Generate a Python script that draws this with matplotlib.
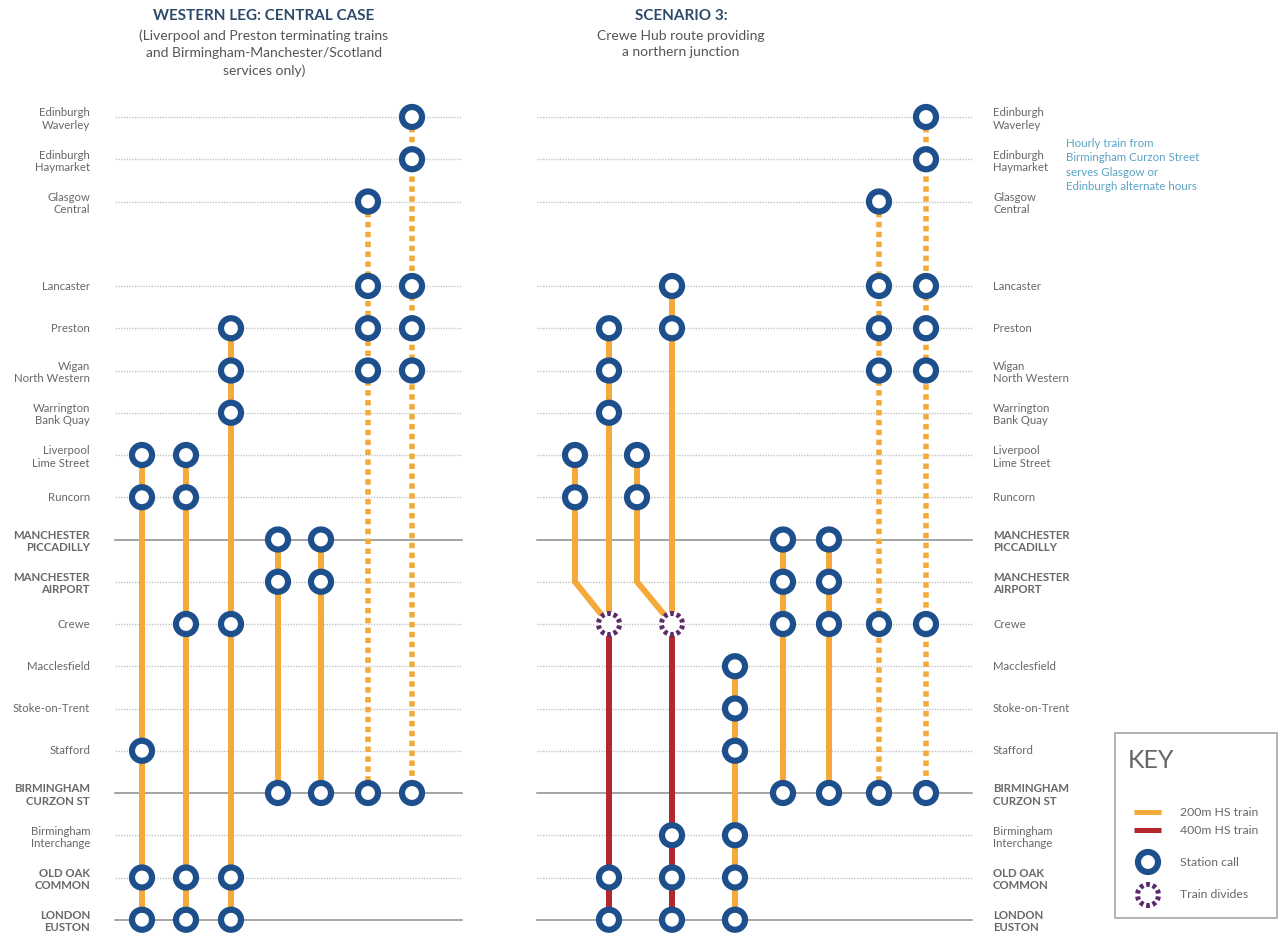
import matplotlib
matplotlib.use("Agg")
import matplotlib.pyplot as plt
from matplotlib.patches import Circle, Arc, Rectangle

# ---------------- data ----------------
STATION_KEYS = ["EDW", "EDH", "GLC", None, "LAN", "PRE", "WIG", "WBQ", "LIV", "RUN",
                "MAN", "MIA", "CRE", "MAC", "SOT", "STA", "BHM", "BHI", "OOC", "EUS"]
STATION_LABELS = ["Edinburgh\nWaverley", "Edinburgh\nHaymarket", "Glasgow\nCentral", "",
                  "Lancaster", "Preston", "Wigan\nNorth Western", "Warrington\nBank Quay",
                  "Liverpool\nLime Street", "Runcorn", "MANCHESTER\nPICCADILLY",
                  "MANCHESTER\nAIRPORT", "Crewe", "Macclesfield", "Stoke-on-Trent", "Stafford",
                  "BIRMINGHAM\nCURZON ST", "Birmingham\nInterchange", "OLD OAK\nCOMMON",
                  "LONDON\nEUSTON"]
MAJOR_STATIONS = ["MAN", "BHM", "EUS"]
BOLD_STATIONS = ["MAN", "MIA", "BHM", "OOC", "EUS"]

LEFT_CALLS = [
    ["LIV", "RUN", "STA", "OOC", "EUS"],
    ["LIV", "RUN", "CRE", "OOC", "EUS"],
    ["PRE", "WIG", "WBQ", "CRE", "OOC", "EUS"],
    ["MAN", "MIA", "BHM"],
    ["MAN", "MIA", "BHM"],
    ["GLC", "LAN", "PRE", "WIG", "BHM"],
    ["EDW", "EDH", "LAN", "PRE", "WIG", "BHM"],
]
LEFT_TRAIN = ["200m", "200m", "200m", "200m", "200m", "alternate", "alternate"]

RIGHT_CALLS = [
    ["LIV", "RUN"],
    ["PRE", "WIG", "WBQ", "CRE"],
    ["LIV", "RUN"],
    ["LAN", "PRE", "CRE"],
    ["MAC", "SOT", "STA", "BHI", "OOC", "EUS"],
    ["MAN", "MIA", "CRE", "BHM"],
    ["MAN", "MIA", "CRE", "BHM"],
    ["GLC", "LAN", "PRE", "WIG", "CRE", "BHM"],
    ["EDW", "EDH", "LAN", "PRE", "WIG", "CRE", "BHM"],
]
RIGHT_TRAIN = ["200m", "200m", "200m", "200m", "200m", "200m", "200m", "alternate", "alternate"]
# branch service -> (service it joins, station where it bends, station where it joins)
RIGHT_JOINS = {0: (1, "MIA", "CRE"), 2: (3, "MIA", "CRE")}
# service -> 400m onward calls after dividing
RIGHT_DIVIDES = {1: ["CRE", "OOC", "EUS"], 3: ["CRE", "BHI", "OOC", "EUS"]}

LEFT_TITLE = "WESTERN LEG: CENTRAL CASE"
LEFT_SUB = "(Liverpool and Preston terminating trains\nand Birmingham-Manchester/Scotland\nservices only)"
RIGHT_TITLE = "SCENARIO 3:"
RIGHT_SUB = "Crewe Hub route providing\na northern junction"
NOTE = "Hourly train from\nBirmingham Curzon Street\nserves Glasgow or\nEdinburgh alternate hours"
KEY_ITEMS = ["200m HS train", "400m HS train", "Station call", "Train divides"]

# ---------------- layout / style ----------------
W, H = 1284, 936
Y0, PITCH = 117, 42.25
LEFT_X = [142, 186, 231, 278, 321, 368, 412]
RIGHT_X = [575, 609, 637, 672, 735, 783, 829, 879, 926]
LEFT_RULE = (115, 462)
RIGHT_RULE = (537, 972)

NAVY = "#1c4f8b"
ORANGE = "#f4a93b"
RED = "#b5262d"
PURPLE = "#5a2a6c"
GREY_TXT = "#686868"
TITLE_C = "#2e4a6a"
NOTE_C = "#5aa3c4"
PX = 0.72  # points per pixel at dpi 100

FONT = ["Lato", "DejaVu Sans"]
plt.rcParams["font.family"] = FONT

fig = plt.figure(figsize=(W / 100, H / 100), dpi=100)
ax = fig.add_axes([0, 0, 1, 1])
ax.set_xlim(0, W)
ax.set_ylim(H, 0)
ax.axis("off")


def ry(key):
    return Y0 + PITCH * STATION_KEYS.index(key)


def ring(x, y, z=5):
    ax.add_patch(Circle((x, y), 10.0, facecolor="white", edgecolor=NAVY,
                        linewidth=6.2 * PX, zorder=z))


def divide(x, y, z=5):
    ax.add_patch(Circle((x, y), 12.5, facecolor="white", edgecolor="none", zorder=z))
    for k in range(10):
        ax.add_patch(Arc((x, y), 21, 21, theta1=k * 36 + 8, theta2=k * 36 + 28,
                         color=PURPLE, linewidth=5 * PX, zorder=z + 1))


def track(xs, ys, train):
    if train == "alternate":
        ax.plot(xs, ys, color=ORANGE, linewidth=5.5 * PX, linestyle=(0, (1.0, 0.8)),
                solid_capstyle="butt", dash_capstyle="butt", zorder=3)
    else:
        ax.plot(xs, ys, color=RED if train == "400m" else ORANGE, linewidth=6 * PX,
                solid_capstyle="butt", solid_joinstyle="miter", zorder=3)


# station rules and labels
for key, label in zip(STATION_KEYS, STATION_LABELS):
    if key is None:
        continue
    y = ry(key)
    for (x0, x1) in (LEFT_RULE, RIGHT_RULE):
        if key in MAJOR_STATIONS:
            ax.plot([x0, x1], [y, y], color="#8c8c8c", linewidth=1.1, zorder=1)
        else:
            ax.plot([x0, x1], [y, y], color="#c4c4c4", linewidth=1.0,
                    linestyle=(0, (1, 1)), zorder=1)
    bold = key in BOLD_STATIONS
    dy = 2 if "\n" in label else 0
    kw = dict(fontsize=8.2, color=GREY_TXT, va="center", linespacing=1.12,
              fontweight="bold" if bold else "normal")
    ax.text(90, y + dy, label, ha="right", **kw)
    ax.text(993, y + dy, label, ha="left", **kw)

# left panel
for x, calls, train in zip(LEFT_X, LEFT_CALLS, LEFT_TRAIN):
    ys = [ry(c) for c in calls]
    track([x, x], [ys[0], ys[-1]], train)
    for y in ys:
        ring(x, y)

# right panel
for i, (x, calls, train) in enumerate(zip(RIGHT_X, RIGHT_CALLS, RIGHT_TRAIN)):
    ys = [ry(c) for c in calls]
    if i in RIGHT_JOINS:
        j, bend, join = RIGHT_JOINS[i]
        track([x, x, RIGHT_X[j]], [ys[0], ry(bend), ry(join)], train)
        for y in ys:
            ring(x, y)
        continue
    track([x, x], [ys[0], ys[-1]], train)
    if i in RIGHT_DIVIDES:
        onward = RIGHT_DIVIDES[i]
        oys = [ry(c) for c in onward]
        track([x, x], [oys[0], oys[-1]], "400m")
        for c, y in zip(calls, ys):
            if c != onward[0]:
                ring(x, y)
        divide(x, oys[0])
        for y in oys[1:]:
            ring(x, y)
    else:
        for y in ys:
            ring(x, y)

# titles
ax.text(264, 16, LEFT_TITLE, ha="center", va="center", fontsize=11, fontweight="bold",
        color=TITLE_C)
ax.text(264, 53, LEFT_SUB, ha="center", va="center", fontsize=10, color="#555555",
        linespacing=1.5)
ax.text(681, 16, RIGHT_TITLE, ha="center", va="center", fontsize=11, fontweight="bold",
        color=TITLE_C)
ax.text(681, 44, RIGHT_SUB, ha="center", va="center", fontsize=10, color="#555555",
        linespacing=1.5)

# note
ax.text(1066, 165, NOTE, ha="left", va="center", fontsize=8.3, color=NOTE_C,
        linespacing=1.35)

# key
ax.add_patch(Rectangle((1115, 733), 162, 185, facecolor="white", edgecolor="#b4b4b4",
                       linewidth=2 * PX, zorder=1))
ax.text(1128, 761, "KEY", ha="left", va="center", fontsize=18, color="#666666")
ax.plot([1134, 1161], [812, 812], color=ORANGE, linewidth=5 * PX, solid_capstyle="butt")
ax.plot([1134, 1161], [830, 830], color=RED, linewidth=5 * PX, solid_capstyle="butt")
ring(1148, 862)
divide(1148, 895)
for txt, y in zip(KEY_ITEMS, [812, 830, 862, 895]):
    ax.text(1180, y, txt, ha="left", va="center", fontsize=8.8, color=GREY_TXT)

fig.savefig("out.png", dpi=100)
